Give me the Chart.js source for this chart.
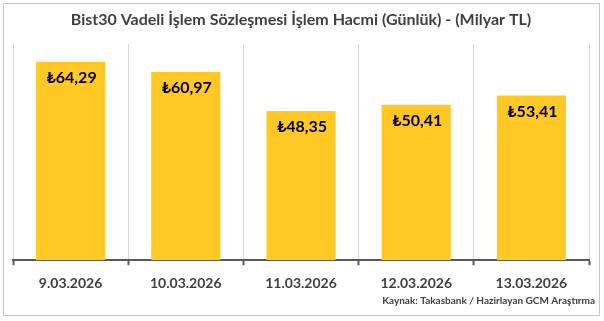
<!DOCTYPE html>
<html>
<head>
<meta charset="utf-8">
<script src="https://cdn.jsdelivr.net/npm/chart.js@4/dist/chart.umd.min.js"></script>
<style>
  html, body { margin: 0; padding: 0; background: #ffffff; }
  #wrap { position: relative; width: 604px; height: 321px; }
  #frame { position: absolute; left: 3px; top: 3px; width: 597px; height: 313px; border: 1px solid #c8c8c8; box-sizing: border-box; pointer-events: none; }
  canvas { display: block; }
</style>
</head>
<body>
<div id="wrap">
  <canvas id="c" width="604" height="321"></canvas>
  <div id="frame"></div>
</div>
<script>
const categories = ["9.03.2026", "10.03.2026", "11.03.2026", "12.03.2026", "13.03.2026"];
const volumes = [64.29, 60.97, 48.35, 50.41, 53.41];
const valueLabels = ["₺64,29", "₺60,97", "₺48,35", "₺50,41", "₺53,41"];
const titleText = "Bist30 Vadeli İşlem Sözleşmesi İşlem Hacmi (Günlük) - (Milyar TL)";
const sourceText = "Kaynak: Takasbank / Hazirlayan GCM Araştırma";

const FONT = "Lato, 'Open Sans', 'DejaVu Sans', sans-serif";

const barLabels = {
  id: 'barLabels',
  afterDatasetsDraw(chart) {
    const ctx = chart.ctx;
    const meta = chart.getDatasetMeta(0);
    ctx.save();
    ctx.font = "bold 16px " + FONT;
    ctx.fillStyle = "#000000";
    ctx.textAlign = "center";
    ctx.textBaseline = "middle";
    meta.data.forEach((bar, i) => {
      ctx.fillText(valueLabels[i], bar.x + 1, bar.y + 16);
    });
    ctx.restore();
  }
};

const sourceNote = {
  id: 'sourceNote',
  afterDraw(chart) {
    const ctx = chart.ctx;
    ctx.save();
    ctx.font = "bold 10px " + FONT;
    ctx.fillStyle = "#404040";
    ctx.textAlign = "right";
    ctx.textBaseline = "middle";
    ctx.fillText(sourceText, 595, 301);
    ctx.restore();
  }
};

new Chart(document.getElementById('c'), {
  type: 'bar',
  data: {
    labels: categories,
    datasets: [{
      data: volumes,
      backgroundColor: '#FFC824',
      borderWidth: 0,
      categoryPercentage: 0.6,
      barPercentage: 1.0
    }]
  },
  options: {
    responsive: false,
    animation: false,
    layout: { padding: { top: 8, left: 13, right: 15, bottom: 19 } },
    plugins: {
      legend: { display: false },
      tooltip: { enabled: false },
      title: {
        display: true,
        text: titleText,
        color: '#404040',
        font: { family: FONT, size: 16, weight: 'bold' },
        padding: { top: 2, bottom: 15 }
      }
    },
    scales: {
      x: {
        offset: true,
        grid: {
          display: true,
          offset: true,
          color: '#d9d9d9',
          lineWidth: 1,
          drawTicks: true,
          tickLength: 5,
          tickColor: '#595959',
          tickWidth: 2
        },
        border: { display: true, color: '#595959', width: 2 },
        ticks: {
          color: '#404040',
          font: { family: FONT, size: 14, weight: 'bold' },
          padding: 10
        }
      },
      y: {
        display: false,
        min: 0,
        max: 70
      }
    }
  },
  plugins: [barLabels, sourceNote]
});
</script>
</body>
</html>
